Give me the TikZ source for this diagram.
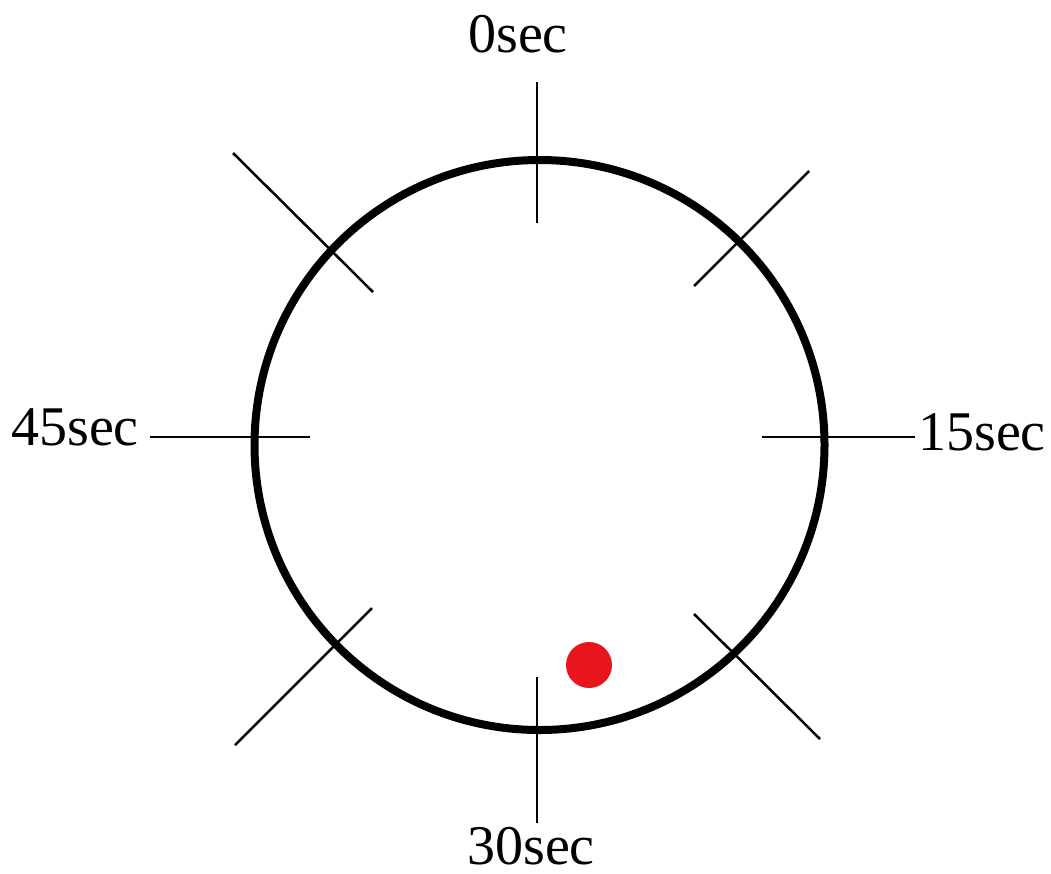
\documentclass[tikz,border=0pt]{standalone}
\usepackage{fontspec}
\setmainfont{Liberation Serif}
\definecolor{dotred}{RGB}{232,22,28}
\begin{document}
\begin{tikzpicture}[x=1pt,y=-1pt,
  rim/.style={draw=black,line width=8pt,circle,minimum size=570pt,inner sep=0pt},
  tick/.style={draw=black,line width=2.5pt},
  lbl/.style={anchor=base,inner sep=0pt,font=\fontsize{56}{60}\selectfont},
  dot/.style={fill=dotred,draw=none,circle,minimum size=46pt,inner sep=0pt}]
\useasboundingbox (0,0) rectangle (1051,873);
\node[rim] (clock) at (539.5,445) {};
% tick end points
\coordinate (t0a) at (537,82);   \coordinate (t0b) at (537,223);
\coordinate (t30a) at (537,677); \coordinate (t30b) at (537,823);
\coordinate (t45a) at (150,437); \coordinate (t45b) at (310,437);
\coordinate (t15a) at (762,437); \coordinate (t15b) at (915,437);
\coordinate (tla) at (233,153);  \coordinate (tlb) at (373,292);
\coordinate (tra) at (809,171);  \coordinate (trb) at (694,286);
\coordinate (bla) at (372,608);  \coordinate (blb) at (235,745);
\coordinate (bra) at (694,614);  \coordinate (brb) at (820,739);
\draw[tick] (t0a) -- (t0b);
\draw[tick] (t30a) -- (t30b);
\draw[tick] (t45a) -- (t45b);
\draw[tick] (t15a) -- (t15b);
\draw[tick] (tla) -- (tlb);
\draw[tick] (tra) -- (trb);
\draw[tick] (bla) -- (blb);
\draw[tick] (bra) -- (brb);
\node[dot] (ball) at (589,665) {};
\node[lbl] (l0) at (518,52) {0sec};
\node[lbl] (l15) at (982,450) {15sec};
\node[lbl] (l30) at (531,864) {30sec};
\node[lbl] (l45) at (75,445) {45sec};
\end{tikzpicture}
\end{document}
